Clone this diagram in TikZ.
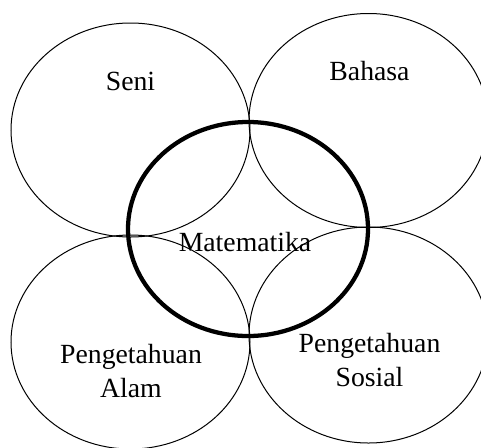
\documentclass[tikz,border=0pt]{standalone}
\usepackage{fontspec}
\setmainfont{Liberation Serif}
\usepackage{tikz}
\usetikzlibrary{positioning, shapes}

\begin{document}
\begin{tikzpicture}[x=0.75pt, y=-0.75pt, font=\fontsize{20.8}{25.5}\selectfont]
        \useasboundingbox (0,0) rectangle (481,447);

        % Outer areas
        \node (seni) [draw, ellipse, line width=0.75pt, inner sep=0pt, minimum width=179.25pt, minimum height=160.5pt] at (130.5,130) {};
        \node (bahasa) [draw, ellipse, line width=0.75pt, inner sep=0pt, minimum width=179.25pt, minimum height=160.5pt] at (368.5,120.5) {};
        \node (alam) [draw, ellipse, line width=0.75pt, inner sep=0pt, minimum width=179.25pt, minimum height=160.5pt] at (130.5,342) {};
        \node (sosial) [draw, ellipse, line width=0.75pt, inner sep=0pt, minimum width=179.25pt, minimum height=162pt] at (368.5,335) {};

        % Mathematics in the middle
        \node (matematika) [draw, ellipse, line width=3.2pt, inner sep=0pt, minimum width=180pt, minimum height=160.5pt] at (248,229) {};

        % Labels
        \node (senilabel) [anchor=base, inner sep=0pt] at (130.5,90) {Seni};
        \node (bahasalabel) [anchor=base, inner sep=0pt] at (369.5,80) {Bahasa};
        \node (matlabel) [anchor=base, inner sep=0pt] at (245,251.5) {Matematika};
        \node (alamlabel) [anchor=base, inner sep=0pt, align=center] at (131,397) {Pengetahuan\\Alam};
        \node (sosiallabel) [anchor=base, inner sep=0pt, align=center] at (369.5,386) {Pengetahuan\\Sosial};
    \end{tikzpicture}
\end{document}
